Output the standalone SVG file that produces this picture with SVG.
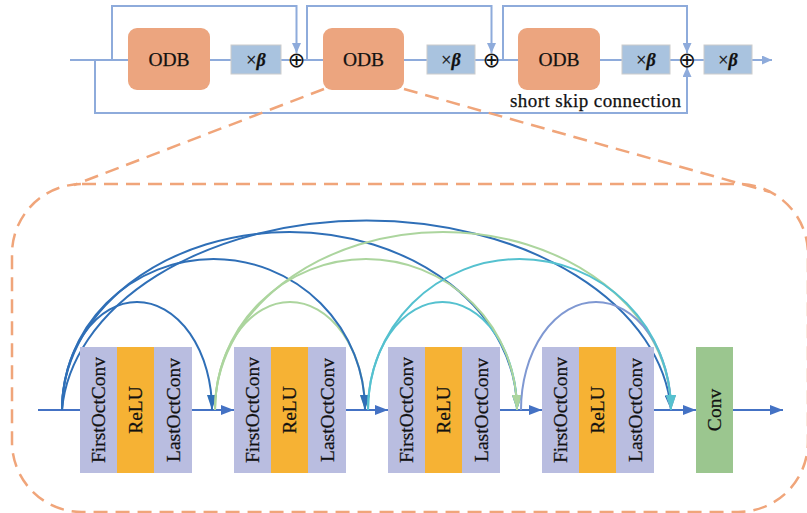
<svg xmlns="http://www.w3.org/2000/svg" width="807" height="513" viewBox="0 0 807 513">
<style>
text{font-family:'Liberation Serif',serif;fill:#111;stroke:#111;stroke-width:0.25}
.tl{fill:none;stroke:#8eabdb;stroke-width:2}
.odb{fill:#eca57f}
.beta{fill:#a9c3df;stroke:#cccccc;stroke-width:1}
.dash{fill:none;stroke:#f0a57a;stroke-width:2.5;stroke-dasharray:14 8}
.ml{fill:none;stroke:#4472c4;stroke-width:2}
.col{fill:#b9bde0}
.relu{fill:#f6b234}
.conv{fill:#9bc68f}
.arc{fill:none;stroke-width:2}
.vt{font-size:19.5px}
.sum{font-family:'DejaVu Sans',sans-serif;font-size:21px;stroke:none}
</style>
<defs>
<marker id="mTop" markerUnits="userSpaceOnUse" markerWidth="10" markerHeight="9" refX="10" refY="4.5" orient="auto"><path d="M0,0 L10,4.5 L0,9 z" fill="#8eabdb"/></marker>
<marker id="mMain" markerUnits="userSpaceOnUse" markerWidth="13" markerHeight="10" refX="13" refY="5" orient="auto"><path d="M0,0 L13,5 L0,10 z" fill="#4472c4"/></marker>
<marker id="mBlue" markerUnits="userSpaceOnUse" markerWidth="15" markerHeight="10" refX="15" refY="5" orient="auto"><path d="M0,0 L15,5 L0,10 z" fill="#2f6fb7"/></marker>
<marker id="mGreen" markerUnits="userSpaceOnUse" markerWidth="15" markerHeight="10" refX="15" refY="5" orient="auto"><path d="M0,0 L15,5 L0,10 z" fill="#acd59e"/></marker>
<marker id="mCyan" markerUnits="userSpaceOnUse" markerWidth="15" markerHeight="10" refX="15" refY="5" orient="auto"><path d="M0,0 L15,5 L0,10 z" fill="#55c1cf"/></marker>
<marker id="mPeri" markerUnits="userSpaceOnUse" markerWidth="15" markerHeight="10" refX="15" refY="5" orient="auto"><path d="M0,0 L15,5 L0,10 z" fill="#7f98d2"/></marker>
</defs>

<g id="top-connectors">
<path class="tl" d="M70,60 H772" marker-end="url(#mTop)"/>
<path class="tl" d="M95,60 V113 H687 V67" marker-end="url(#mTop)"/>
<path class="tl" d="M112,60 V6 H296.5 V53" marker-end="url(#mTop)"/>
<path class="tl" d="M307,60 V6 H491.5 V53" marker-end="url(#mTop)"/>
<path class="tl" d="M503,60 V6 H687 V53" marker-end="url(#mTop)"/>
</g>

<g id="odb1"><rect class="odb" x="128" y="28" width="82" height="62" rx="9"/><text x="169" y="66" font-size="19.5" text-anchor="middle">ODB</text></g>
<g id="odb2"><rect class="odb" x="323" y="28" width="81" height="62" rx="9"/><text x="363.5" y="66" font-size="19.5" text-anchor="middle">ODB</text></g>
<g id="odb3"><rect class="odb" x="518" y="28" width="82" height="62" rx="9"/><text x="559" y="66" font-size="19.5" text-anchor="middle">ODB</text></g>

<g id="beta1"><rect class="beta" x="231" y="45" width="50" height="29"/><text x="256" y="66" font-size="18" text-anchor="middle">×<tspan font-weight="bold" font-style="italic">β</tspan></text></g>
<g id="beta2"><rect class="beta" x="427" y="45" width="48" height="29"/><text x="451" y="66" font-size="18" text-anchor="middle">×<tspan font-weight="bold" font-style="italic">β</tspan></text></g>
<g id="beta3"><rect class="beta" x="622" y="45" width="48" height="29"/><text x="646" y="66" font-size="18" text-anchor="middle">×<tspan font-weight="bold" font-style="italic">β</tspan></text></g>
<g id="beta4"><rect class="beta" x="704" y="45" width="48" height="29"/><text x="728" y="66" font-size="18" text-anchor="middle">×<tspan font-weight="bold" font-style="italic">β</tspan></text></g>

<g id="sum1"><text class="sum" x="296.5" y="67" text-anchor="middle">⊕</text></g>
<g id="sum2"><text class="sum" x="491.5" y="67" text-anchor="middle">⊕</text></g>
<g id="sum3"><text class="sum" x="687" y="67" text-anchor="middle">⊕</text></g>

<g id="label-skip"><text x="510" y="107" font-size="19" textLength="171">short skip connection</text></g>

<g id="zoom-outline">
<path class="dash" d="M324,89 L74,185"/>
<path class="dash" d="M404,89 L770,192"/>
<rect class="dash" x="12" y="184" width="796" height="328" rx="70" ry="70"/>
</g>

<g id="connectors">
<path class="ml" d="M38,410 H80"/>
<path class="ml" d="M192,410 H234" marker-end="url(#mMain)"/>
<path class="ml" d="M346,410 H388" marker-end="url(#mMain)"/>
<path class="ml" d="M500,410 H542" marker-end="url(#mMain)"/>
<path class="ml" d="M654,410 H696" marker-end="url(#mMain)"/>
<path class="ml" d="M733,410 H783" marker-end="url(#mMain)"/>

<path class="arc" stroke="#acd59e" d="M215,410 A75,108 0 0 1 365,410" marker-end="url(#mGreen)"/>
<path class="arc" stroke="#2f6fb7" d="M62,410 A305,201 0 0 1 671,410" marker-end="url(#mBlue)"/>
<path class="arc" stroke="#2f6fb7" d="M62,410 A227.5,178 0 0 1 517,410" marker-end="url(#mBlue)"/>
<path class="arc" stroke="#2f6fb7" d="M62,410 A151.5,151 0 0 1 365,410" marker-end="url(#mBlue)"/>
<path class="arc" stroke="#2f6fb7" d="M62,410 A75,108 0 0 1 212,410" marker-end="url(#mBlue)"/>
<path class="arc" stroke="#55c1cf" d="M368,410 A74.5,108 0 0 1 517,410" marker-end="url(#mCyan)"/>
<path class="arc" stroke="#acd59e" d="M215,410 A228,178 0 0 1 671,410" marker-end="url(#mGreen)"/>
<path class="arc" stroke="#acd59e" d="M215,410 A151,151 0 0 1 517,410" marker-end="url(#mGreen)"/>
<path class="arc" stroke="#7f98d2" d="M521,410 A75,108 0 0 1 671,410" marker-end="url(#mPeri)"/>
<path class="arc" stroke="#55c1cf" d="M368,410 A151.5,151 0 0 1 671,410" marker-end="url(#mCyan)"/>
</g>

<g id="block1">
<rect class="col" x="80" y="347" width="37" height="126"/><rect class="relu" x="117" y="347" width="37" height="126"/><rect class="col" x="154" y="347" width="38" height="126"/>
<text class="vt" transform="translate(105,410) rotate(-90)" text-anchor="middle">FirstOctConv</text>
<text class="vt" transform="translate(142,410) rotate(-90)" text-anchor="middle">ReLU</text>
<text class="vt" transform="translate(179.5,410) rotate(-90)" text-anchor="middle">LastOctConv</text>
</g>
<g id="block2">
<rect class="col" x="234" y="347" width="37" height="126"/><rect class="relu" x="271" y="347" width="37" height="126"/><rect class="col" x="308" y="347" width="38" height="126"/>
<text class="vt" transform="translate(259,410) rotate(-90)" text-anchor="middle">FirstOctConv</text>
<text class="vt" transform="translate(296,410) rotate(-90)" text-anchor="middle">ReLU</text>
<text class="vt" transform="translate(333.5,410) rotate(-90)" text-anchor="middle">LastOctConv</text>
</g>
<g id="block3">
<rect class="col" x="388" y="347" width="37" height="126"/><rect class="relu" x="425" y="347" width="37" height="126"/><rect class="col" x="462" y="347" width="38" height="126"/>
<text class="vt" transform="translate(413,410) rotate(-90)" text-anchor="middle">FirstOctConv</text>
<text class="vt" transform="translate(450,410) rotate(-90)" text-anchor="middle">ReLU</text>
<text class="vt" transform="translate(487.5,410) rotate(-90)" text-anchor="middle">LastOctConv</text>
</g>
<g id="block4">
<rect class="col" x="542" y="347" width="37" height="126"/><rect class="relu" x="579" y="347" width="37" height="126"/><rect class="col" x="616" y="347" width="38" height="126"/>
<text class="vt" transform="translate(567,410) rotate(-90)" text-anchor="middle">FirstOctConv</text>
<text class="vt" transform="translate(604,410) rotate(-90)" text-anchor="middle">ReLU</text>
<text class="vt" transform="translate(641.5,410) rotate(-90)" text-anchor="middle">LastOctConv</text>
</g>
<g id="conv">
<rect class="conv" x="696" y="347" width="37" height="126"/>
<text class="vt" transform="translate(721,410) rotate(-90)" text-anchor="middle">Conv</text>
</g>
</svg>
